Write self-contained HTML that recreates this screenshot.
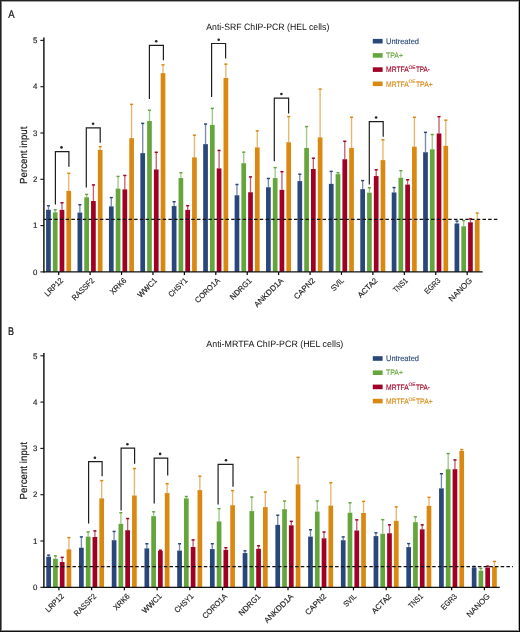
<!DOCTYPE html>
<html><head><meta charset="utf-8"><title>ChIP-PCR</title>
<style>
html,body{margin:0;padding:0;background:#fff;}
body{width:520px;height:632px;overflow:hidden;}
svg{display:block;font-family:"Liberation Sans",sans-serif;text-rendering:geometricPrecision;will-change:transform;}
</style></head><body>
<svg width="520" height="632" viewBox="0 0 520 632">
<rect x="0" y="0" width="520" height="632" fill="#fff"/>
<rect x="46.09" y="209.77" width="4.7" height="62.13" fill="#2a477b"/>
<line x1="48.45" y1="209.77" x2="48.45" y2="205.46" stroke="#2a477b" stroke-width="1.35" stroke-opacity="0.62"/>
<rect x="46.90" y="205.06" width="3.1" height="1.45" fill="#2a477b"/>
<rect x="52.86" y="212.36" width="4.7" height="59.54" fill="#65a63c"/>
<line x1="55.21" y1="212.36" x2="55.21" y2="209.49" stroke="#65a63c" stroke-width="1.35" stroke-opacity="0.62"/>
<rect x="53.66" y="209.09" width="3.1" height="1.45" fill="#65a63c"/>
<rect x="59.63" y="209.86" width="4.7" height="62.04" fill="#a00026"/>
<line x1="61.98" y1="209.86" x2="61.98" y2="202.45" stroke="#a00026" stroke-width="1.35" stroke-opacity="0.62"/>
<rect x="60.44" y="202.05" width="3.1" height="1.45" fill="#a00026"/>
<rect x="66.41" y="190.97" width="4.7" height="80.93" fill="#d98912"/>
<line x1="68.75" y1="190.97" x2="68.75" y2="172.96" stroke="#d98912" stroke-width="1.35" stroke-opacity="0.62"/>
<rect x="67.20" y="172.56" width="3.1" height="1.45" fill="#d98912"/>
<rect x="77.52" y="212.59" width="4.7" height="59.31" fill="#2a477b"/>
<line x1="79.87" y1="212.59" x2="79.87" y2="204.39" stroke="#2a477b" stroke-width="1.35" stroke-opacity="0.62"/>
<rect x="78.32" y="203.99" width="3.1" height="1.45" fill="#2a477b"/>
<rect x="84.29" y="197.26" width="4.7" height="74.64" fill="#65a63c"/>
<line x1="86.64" y1="197.26" x2="86.64" y2="194.07" stroke="#65a63c" stroke-width="1.35" stroke-opacity="0.62"/>
<rect x="85.09" y="193.67" width="3.1" height="1.45" fill="#65a63c"/>
<rect x="91.06" y="200.97" width="4.7" height="70.93" fill="#a00026"/>
<line x1="93.41" y1="200.97" x2="93.41" y2="184.58" stroke="#a00026" stroke-width="1.35" stroke-opacity="0.62"/>
<rect x="91.86" y="184.18" width="3.1" height="1.45" fill="#a00026"/>
<rect x="97.83" y="149.90" width="4.7" height="122.00" fill="#d98912"/>
<line x1="100.18" y1="149.90" x2="100.18" y2="146.29" stroke="#d98912" stroke-width="1.35" stroke-opacity="0.62"/>
<rect x="98.63" y="145.89" width="3.1" height="1.45" fill="#d98912"/>
<rect x="108.94" y="206.39" width="4.7" height="65.51" fill="#2a477b"/>
<line x1="111.28" y1="206.39" x2="111.28" y2="197.26" stroke="#2a477b" stroke-width="1.35" stroke-opacity="0.62"/>
<rect x="109.73" y="196.86" width="3.1" height="1.45" fill="#2a477b"/>
<rect x="115.70" y="188.56" width="4.7" height="83.34" fill="#65a63c"/>
<line x1="118.05" y1="188.56" x2="118.05" y2="176.06" stroke="#65a63c" stroke-width="1.35" stroke-opacity="0.62"/>
<rect x="116.50" y="175.66" width="3.1" height="1.45" fill="#65a63c"/>
<rect x="122.47" y="189.35" width="4.7" height="82.55" fill="#a00026"/>
<line x1="124.82" y1="189.35" x2="124.82" y2="175.13" stroke="#a00026" stroke-width="1.35" stroke-opacity="0.62"/>
<rect x="123.27" y="174.73" width="3.1" height="1.45" fill="#a00026"/>
<rect x="129.25" y="138.14" width="4.7" height="133.76" fill="#d98912"/>
<line x1="131.59" y1="138.14" x2="131.59" y2="104.02" stroke="#d98912" stroke-width="1.35" stroke-opacity="0.62"/>
<rect x="130.04" y="103.62" width="3.1" height="1.45" fill="#d98912"/>
<rect x="140.36" y="153.14" width="4.7" height="118.76" fill="#2a477b"/>
<line x1="142.71" y1="153.14" x2="142.71" y2="123.05" stroke="#2a477b" stroke-width="1.35" stroke-opacity="0.62"/>
<rect x="141.16" y="122.65" width="3.1" height="1.45" fill="#2a477b"/>
<rect x="147.13" y="121.05" width="4.7" height="150.85" fill="#65a63c"/>
<line x1="149.48" y1="121.05" x2="149.48" y2="109.94" stroke="#65a63c" stroke-width="1.35" stroke-opacity="0.62"/>
<rect x="147.93" y="109.54" width="3.1" height="1.45" fill="#65a63c"/>
<rect x="153.90" y="169.44" width="4.7" height="102.46" fill="#a00026"/>
<line x1="156.25" y1="169.44" x2="156.25" y2="151.94" stroke="#a00026" stroke-width="1.35" stroke-opacity="0.62"/>
<rect x="154.69" y="151.54" width="3.1" height="1.45" fill="#a00026"/>
<rect x="160.67" y="73.13" width="4.7" height="198.77" fill="#d98912"/>
<line x1="163.02" y1="73.13" x2="163.02" y2="64.52" stroke="#d98912" stroke-width="1.35" stroke-opacity="0.62"/>
<rect x="161.47" y="64.12" width="3.1" height="1.45" fill="#d98912"/>
<rect x="171.78" y="206.06" width="4.7" height="65.84" fill="#2a477b"/>
<line x1="174.12" y1="206.06" x2="174.12" y2="201.39" stroke="#2a477b" stroke-width="1.35" stroke-opacity="0.62"/>
<rect x="172.57" y="200.99" width="3.1" height="1.45" fill="#2a477b"/>
<rect x="178.55" y="178.05" width="4.7" height="93.85" fill="#65a63c"/>
<line x1="180.90" y1="178.05" x2="180.90" y2="172.35" stroke="#65a63c" stroke-width="1.35" stroke-opacity="0.62"/>
<rect x="179.34" y="171.95" width="3.1" height="1.45" fill="#65a63c"/>
<rect x="185.31" y="209.86" width="4.7" height="62.04" fill="#a00026"/>
<line x1="187.66" y1="209.86" x2="187.66" y2="205.37" stroke="#a00026" stroke-width="1.35" stroke-opacity="0.62"/>
<rect x="186.11" y="204.97" width="3.1" height="1.45" fill="#a00026"/>
<rect x="192.09" y="157.35" width="4.7" height="114.55" fill="#d98912"/>
<line x1="194.44" y1="157.35" x2="194.44" y2="134.85" stroke="#d98912" stroke-width="1.35" stroke-opacity="0.62"/>
<rect x="192.88" y="134.45" width="3.1" height="1.45" fill="#d98912"/>
<rect x="203.20" y="144.16" width="4.7" height="127.74" fill="#2a477b"/>
<line x1="205.55" y1="144.16" x2="205.55" y2="123.74" stroke="#2a477b" stroke-width="1.35" stroke-opacity="0.62"/>
<rect x="204.00" y="123.34" width="3.1" height="1.45" fill="#2a477b"/>
<rect x="209.97" y="124.94" width="4.7" height="146.96" fill="#65a63c"/>
<line x1="212.32" y1="124.94" x2="212.32" y2="108.04" stroke="#65a63c" stroke-width="1.35" stroke-opacity="0.62"/>
<rect x="210.77" y="107.64" width="3.1" height="1.45" fill="#65a63c"/>
<rect x="216.74" y="168.37" width="4.7" height="103.53" fill="#a00026"/>
<line x1="219.09" y1="168.37" x2="219.09" y2="150.13" stroke="#a00026" stroke-width="1.35" stroke-opacity="0.62"/>
<rect x="217.53" y="149.73" width="3.1" height="1.45" fill="#a00026"/>
<rect x="223.51" y="78.00" width="4.7" height="193.90" fill="#d98912"/>
<line x1="225.86" y1="78.00" x2="225.86" y2="63.83" stroke="#d98912" stroke-width="1.35" stroke-opacity="0.62"/>
<rect x="224.31" y="63.43" width="3.1" height="1.45" fill="#d98912"/>
<rect x="234.62" y="195.27" width="4.7" height="76.63" fill="#2a477b"/>
<line x1="236.97" y1="195.27" x2="236.97" y2="184.16" stroke="#2a477b" stroke-width="1.35" stroke-opacity="0.62"/>
<rect x="235.41" y="183.76" width="3.1" height="1.45" fill="#2a477b"/>
<rect x="241.39" y="163.23" width="4.7" height="108.67" fill="#65a63c"/>
<line x1="243.74" y1="163.23" x2="243.74" y2="151.84" stroke="#65a63c" stroke-width="1.35" stroke-opacity="0.62"/>
<rect x="242.19" y="151.44" width="3.1" height="1.45" fill="#65a63c"/>
<rect x="248.16" y="192.26" width="4.7" height="79.64" fill="#a00026"/>
<line x1="250.50" y1="192.26" x2="250.50" y2="176.57" stroke="#a00026" stroke-width="1.35" stroke-opacity="0.62"/>
<rect x="248.95" y="176.17" width="3.1" height="1.45" fill="#a00026"/>
<rect x="254.93" y="147.35" width="4.7" height="124.55" fill="#d98912"/>
<line x1="257.28" y1="147.35" x2="257.28" y2="130.55" stroke="#d98912" stroke-width="1.35" stroke-opacity="0.62"/>
<rect x="255.73" y="130.15" width="3.1" height="1.45" fill="#d98912"/>
<rect x="266.04" y="187.26" width="4.7" height="84.64" fill="#2a477b"/>
<line x1="268.39" y1="187.26" x2="268.39" y2="178.14" stroke="#2a477b" stroke-width="1.35" stroke-opacity="0.62"/>
<rect x="266.84" y="177.74" width="3.1" height="1.45" fill="#2a477b"/>
<rect x="272.81" y="178.05" width="4.7" height="93.85" fill="#65a63c"/>
<line x1="275.16" y1="178.05" x2="275.16" y2="167.26" stroke="#65a63c" stroke-width="1.35" stroke-opacity="0.62"/>
<rect x="273.61" y="166.86" width="3.1" height="1.45" fill="#65a63c"/>
<rect x="279.58" y="189.86" width="4.7" height="82.04" fill="#a00026"/>
<line x1="281.93" y1="189.86" x2="281.93" y2="171.34" stroke="#a00026" stroke-width="1.35" stroke-opacity="0.62"/>
<rect x="280.38" y="170.94" width="3.1" height="1.45" fill="#a00026"/>
<rect x="286.35" y="142.26" width="4.7" height="129.64" fill="#d98912"/>
<line x1="288.70" y1="142.26" x2="288.70" y2="116.24" stroke="#d98912" stroke-width="1.35" stroke-opacity="0.62"/>
<rect x="287.15" y="115.84" width="3.1" height="1.45" fill="#d98912"/>
<rect x="297.46" y="181.06" width="4.7" height="90.84" fill="#2a477b"/>
<line x1="299.81" y1="181.06" x2="299.81" y2="173.88" stroke="#2a477b" stroke-width="1.35" stroke-opacity="0.62"/>
<rect x="298.26" y="173.48" width="3.1" height="1.45" fill="#2a477b"/>
<rect x="304.23" y="147.95" width="4.7" height="123.95" fill="#65a63c"/>
<line x1="306.58" y1="147.95" x2="306.58" y2="126.24" stroke="#65a63c" stroke-width="1.35" stroke-opacity="0.62"/>
<rect x="305.03" y="125.84" width="3.1" height="1.45" fill="#65a63c"/>
<rect x="311.00" y="169.02" width="4.7" height="102.88" fill="#a00026"/>
<line x1="313.35" y1="169.02" x2="313.35" y2="157.91" stroke="#a00026" stroke-width="1.35" stroke-opacity="0.62"/>
<rect x="311.80" y="157.51" width="3.1" height="1.45" fill="#a00026"/>
<rect x="317.77" y="137.35" width="4.7" height="134.55" fill="#d98912"/>
<line x1="320.12" y1="137.35" x2="320.12" y2="88.74" stroke="#d98912" stroke-width="1.35" stroke-opacity="0.62"/>
<rect x="318.57" y="88.34" width="3.1" height="1.45" fill="#d98912"/>
<rect x="328.88" y="183.88" width="4.7" height="88.02" fill="#2a477b"/>
<line x1="331.23" y1="183.88" x2="331.23" y2="171.06" stroke="#2a477b" stroke-width="1.35" stroke-opacity="0.62"/>
<rect x="329.68" y="170.66" width="3.1" height="1.45" fill="#2a477b"/>
<rect x="335.65" y="174.16" width="4.7" height="97.74" fill="#65a63c"/>
<line x1="338.00" y1="174.16" x2="338.00" y2="172.35" stroke="#65a63c" stroke-width="1.35" stroke-opacity="0.62"/>
<rect x="336.45" y="171.95" width="3.1" height="1.45" fill="#65a63c"/>
<rect x="342.42" y="159.25" width="4.7" height="112.65" fill="#a00026"/>
<line x1="344.77" y1="159.25" x2="344.77" y2="140.96" stroke="#a00026" stroke-width="1.35" stroke-opacity="0.62"/>
<rect x="343.22" y="140.56" width="3.1" height="1.45" fill="#a00026"/>
<rect x="349.19" y="147.95" width="4.7" height="123.95" fill="#d98912"/>
<line x1="351.54" y1="147.95" x2="351.54" y2="116.93" stroke="#d98912" stroke-width="1.35" stroke-opacity="0.62"/>
<rect x="349.99" y="116.53" width="3.1" height="1.45" fill="#d98912"/>
<rect x="360.30" y="189.16" width="4.7" height="82.74" fill="#2a477b"/>
<line x1="362.65" y1="189.16" x2="362.65" y2="180.27" stroke="#2a477b" stroke-width="1.35" stroke-opacity="0.62"/>
<rect x="361.10" y="179.87" width="3.1" height="1.45" fill="#2a477b"/>
<rect x="367.07" y="192.68" width="4.7" height="79.22" fill="#65a63c"/>
<line x1="369.42" y1="192.68" x2="369.42" y2="187.45" stroke="#65a63c" stroke-width="1.35" stroke-opacity="0.62"/>
<rect x="367.87" y="187.05" width="3.1" height="1.45" fill="#65a63c"/>
<rect x="373.84" y="176.06" width="4.7" height="95.84" fill="#a00026"/>
<line x1="376.19" y1="176.06" x2="376.19" y2="169.44" stroke="#a00026" stroke-width="1.35" stroke-opacity="0.62"/>
<rect x="374.64" y="169.04" width="3.1" height="1.45" fill="#a00026"/>
<rect x="380.61" y="160.13" width="4.7" height="111.77" fill="#d98912"/>
<line x1="382.96" y1="160.13" x2="382.96" y2="139.44" stroke="#d98912" stroke-width="1.35" stroke-opacity="0.62"/>
<rect x="381.41" y="139.04" width="3.1" height="1.45" fill="#d98912"/>
<rect x="391.72" y="192.45" width="4.7" height="79.45" fill="#2a477b"/>
<line x1="394.07" y1="192.45" x2="394.07" y2="187.26" stroke="#2a477b" stroke-width="1.35" stroke-opacity="0.62"/>
<rect x="392.52" y="186.86" width="3.1" height="1.45" fill="#2a477b"/>
<rect x="398.49" y="177.77" width="4.7" height="94.13" fill="#65a63c"/>
<line x1="400.84" y1="177.77" x2="400.84" y2="170.36" stroke="#65a63c" stroke-width="1.35" stroke-opacity="0.62"/>
<rect x="399.29" y="169.96" width="3.1" height="1.45" fill="#65a63c"/>
<rect x="405.26" y="184.58" width="4.7" height="87.32" fill="#a00026"/>
<line x1="407.61" y1="184.58" x2="407.61" y2="179.44" stroke="#a00026" stroke-width="1.35" stroke-opacity="0.62"/>
<rect x="406.06" y="179.04" width="3.1" height="1.45" fill="#a00026"/>
<rect x="412.03" y="146.66" width="4.7" height="125.24" fill="#d98912"/>
<line x1="414.38" y1="146.66" x2="414.38" y2="116.93" stroke="#d98912" stroke-width="1.35" stroke-opacity="0.62"/>
<rect x="412.83" y="116.53" width="3.1" height="1.45" fill="#d98912"/>
<rect x="423.14" y="152.26" width="4.7" height="119.64" fill="#2a477b"/>
<line x1="425.49" y1="152.26" x2="425.49" y2="132.03" stroke="#2a477b" stroke-width="1.35" stroke-opacity="0.62"/>
<rect x="423.94" y="131.63" width="3.1" height="1.45" fill="#2a477b"/>
<rect x="429.91" y="149.34" width="4.7" height="122.56" fill="#65a63c"/>
<line x1="432.26" y1="149.34" x2="432.26" y2="134.16" stroke="#65a63c" stroke-width="1.35" stroke-opacity="0.62"/>
<rect x="430.71" y="133.76" width="3.1" height="1.45" fill="#65a63c"/>
<rect x="436.68" y="133.46" width="4.7" height="138.44" fill="#a00026"/>
<line x1="439.03" y1="133.46" x2="439.03" y2="116.33" stroke="#a00026" stroke-width="1.35" stroke-opacity="0.62"/>
<rect x="437.48" y="115.93" width="3.1" height="1.45" fill="#a00026"/>
<rect x="443.45" y="145.83" width="4.7" height="126.07" fill="#d98912"/>
<line x1="445.80" y1="145.83" x2="445.80" y2="119.85" stroke="#d98912" stroke-width="1.35" stroke-opacity="0.62"/>
<rect x="444.25" y="119.45" width="3.1" height="1.45" fill="#d98912"/>
<rect x="454.56" y="223.47" width="4.7" height="48.43" fill="#2a477b"/>
<line x1="456.91" y1="223.47" x2="456.91" y2="220.78" stroke="#2a477b" stroke-width="1.35" stroke-opacity="0.62"/>
<rect x="455.36" y="220.38" width="3.1" height="1.45" fill="#2a477b"/>
<rect x="461.33" y="226.29" width="4.7" height="45.61" fill="#65a63c"/>
<line x1="463.68" y1="226.29" x2="463.68" y2="220.28" stroke="#65a63c" stroke-width="1.35" stroke-opacity="0.62"/>
<rect x="462.13" y="219.88" width="3.1" height="1.45" fill="#65a63c"/>
<rect x="468.10" y="222.27" width="4.7" height="49.63" fill="#a00026"/>
<line x1="470.45" y1="222.27" x2="470.45" y2="218.56" stroke="#a00026" stroke-width="1.35" stroke-opacity="0.62"/>
<rect x="468.90" y="218.16" width="3.1" height="1.45" fill="#a00026"/>
<rect x="474.87" y="220.00" width="4.7" height="51.90" fill="#d98912"/>
<line x1="477.22" y1="220.00" x2="477.22" y2="212.77" stroke="#d98912" stroke-width="1.35" stroke-opacity="0.62"/>
<rect x="475.67" y="212.37" width="3.1" height="1.45" fill="#d98912"/>
<line x1="43.89" y1="219.3" x2="497.7" y2="219.3" stroke="#111" stroke-width="1.25" stroke-dasharray="3.5 2.21" stroke-dashoffset="1.11"/>
<line x1="43.89" y1="37.5" x2="43.89" y2="272.5" stroke="#111" stroke-width="1.45"/>
<line x1="43.39" y1="271.9" x2="482.7" y2="271.9" stroke="#111" stroke-width="1.2"/>
<line x1="40.39" y1="271.90" x2="43.89" y2="271.90" stroke="#111" stroke-width="1.1"/>
<text x="37.49" y="274.65" font-size="7.9" text-anchor="end" fill="#1a1a1a" stroke="#1a1a1a" stroke-width="0.15">0</text>
<line x1="40.39" y1="225.60" x2="43.89" y2="225.60" stroke="#111" stroke-width="1.1"/>
<text x="37.49" y="228.35" font-size="7.9" text-anchor="end" fill="#1a1a1a" stroke="#1a1a1a" stroke-width="0.15">1</text>
<line x1="40.39" y1="179.30" x2="43.89" y2="179.30" stroke="#111" stroke-width="1.1"/>
<text x="37.49" y="182.05" font-size="7.9" text-anchor="end" fill="#1a1a1a" stroke="#1a1a1a" stroke-width="0.15">2</text>
<line x1="40.39" y1="133.00" x2="43.89" y2="133.00" stroke="#111" stroke-width="1.1"/>
<text x="37.49" y="135.75" font-size="7.9" text-anchor="end" fill="#1a1a1a" stroke="#1a1a1a" stroke-width="0.15">3</text>
<line x1="40.39" y1="86.70" x2="43.89" y2="86.70" stroke="#111" stroke-width="1.1"/>
<text x="37.49" y="89.45" font-size="7.9" text-anchor="end" fill="#1a1a1a" stroke="#1a1a1a" stroke-width="0.15">4</text>
<line x1="40.39" y1="40.40" x2="43.89" y2="40.40" stroke="#111" stroke-width="1.1"/>
<text x="37.49" y="43.15" font-size="7.9" text-anchor="end" fill="#1a1a1a" stroke="#1a1a1a" stroke-width="0.15">5</text>
<line x1="58.70" y1="271.9" x2="58.70" y2="274.9" stroke="#000" stroke-width="1.2"/>
<text x="63.55" y="281.10" font-size="7.9" text-anchor="end" fill="#1a1a1a" stroke="#1a1a1a" stroke-width="0.14" textLength="22.4" lengthAdjust="spacingAndGlyphs" transform="rotate(-45 63.55 281.10)">LRP12</text>
<line x1="90.12" y1="271.9" x2="90.12" y2="274.9" stroke="#000" stroke-width="1.2"/>
<text x="94.72" y="281.10" font-size="7.9" text-anchor="end" fill="#1a1a1a" stroke="#1a1a1a" stroke-width="0.14" textLength="28.0" lengthAdjust="spacingAndGlyphs" transform="rotate(-45 94.72 281.10)">RASSF2</text>
<line x1="121.54" y1="271.9" x2="121.54" y2="274.9" stroke="#000" stroke-width="1.2"/>
<text x="126.89" y="281.10" font-size="7.9" text-anchor="end" fill="#1a1a1a" stroke="#1a1a1a" stroke-width="0.14" textLength="19.5" lengthAdjust="spacingAndGlyphs" transform="rotate(-45 126.89 281.10)">XRK6</text>
<line x1="152.96" y1="271.9" x2="152.96" y2="274.9" stroke="#000" stroke-width="1.2"/>
<text x="157.56" y="281.10" font-size="7.9" text-anchor="end" fill="#1a1a1a" stroke="#1a1a1a" stroke-width="0.14" textLength="23.9" lengthAdjust="spacingAndGlyphs" transform="rotate(-45 157.56 281.10)">WWC1</text>
<line x1="184.38" y1="271.9" x2="184.38" y2="274.9" stroke="#000" stroke-width="1.2"/>
<text x="187.88" y="281.10" font-size="7.9" text-anchor="end" fill="#1a1a1a" stroke="#1a1a1a" stroke-width="0.14" textLength="23.1" lengthAdjust="spacingAndGlyphs" transform="rotate(-45 187.88 281.10)">CHSY1</text>
<line x1="215.80" y1="271.9" x2="215.80" y2="274.9" stroke="#000" stroke-width="1.2"/>
<text x="220.45" y="281.10" font-size="7.9" text-anchor="end" fill="#1a1a1a" stroke="#1a1a1a" stroke-width="0.14" textLength="31.6" lengthAdjust="spacingAndGlyphs" transform="rotate(-45 220.45 281.10)">CORO1A</text>
<line x1="247.22" y1="271.9" x2="247.22" y2="274.9" stroke="#000" stroke-width="1.2"/>
<text x="252.32" y="281.10" font-size="7.9" text-anchor="end" fill="#1a1a1a" stroke="#1a1a1a" stroke-width="0.14" textLength="27.2" lengthAdjust="spacingAndGlyphs" transform="rotate(-45 252.32 281.10)">NDRG1</text>
<line x1="278.64" y1="271.9" x2="278.64" y2="274.9" stroke="#000" stroke-width="1.2"/>
<text x="283.94" y="281.10" font-size="7.9" text-anchor="end" fill="#1a1a1a" stroke="#1a1a1a" stroke-width="0.14" textLength="37.8" lengthAdjust="spacingAndGlyphs" transform="rotate(-45 283.94 281.10)">ANKDD1A</text>
<line x1="310.06" y1="271.9" x2="310.06" y2="274.9" stroke="#000" stroke-width="1.2"/>
<text x="315.56" y="281.10" font-size="7.9" text-anchor="end" fill="#1a1a1a" stroke="#1a1a1a" stroke-width="0.14" textLength="26.4" lengthAdjust="spacingAndGlyphs" transform="rotate(-45 315.56 281.10)">CAPN2</text>
<line x1="341.48" y1="271.9" x2="341.48" y2="274.9" stroke="#000" stroke-width="1.2"/>
<text x="344.38" y="281.10" font-size="7.9" text-anchor="end" fill="#1a1a1a" stroke="#1a1a1a" stroke-width="0.14" textLength="14.8" lengthAdjust="spacingAndGlyphs" transform="rotate(-45 344.38 281.10)">SVIL</text>
<line x1="372.90" y1="271.9" x2="372.90" y2="274.9" stroke="#000" stroke-width="1.2"/>
<text x="378.00" y="281.10" font-size="7.9" text-anchor="end" fill="#1a1a1a" stroke="#1a1a1a" stroke-width="0.14" textLength="24.4" lengthAdjust="spacingAndGlyphs" transform="rotate(-45 378.00 281.10)">ACTA2</text>
<line x1="404.32" y1="271.9" x2="404.32" y2="274.9" stroke="#000" stroke-width="1.2"/>
<text x="408.32" y="281.10" font-size="7.9" text-anchor="end" fill="#1a1a1a" stroke="#1a1a1a" stroke-width="0.14" textLength="17.0" lengthAdjust="spacingAndGlyphs" transform="rotate(-45 408.32 281.10)">TNS1</text>
<line x1="435.74" y1="271.9" x2="435.74" y2="274.9" stroke="#000" stroke-width="1.2"/>
<text x="441.04" y="281.10" font-size="7.9" text-anchor="end" fill="#1a1a1a" stroke="#1a1a1a" stroke-width="0.14" textLength="19.1" lengthAdjust="spacingAndGlyphs" transform="rotate(-45 441.04 281.10)">EGR3</text>
<line x1="467.16" y1="271.9" x2="467.16" y2="274.9" stroke="#000" stroke-width="1.2"/>
<text x="472.66" y="281.10" font-size="7.9" text-anchor="end" fill="#1a1a1a" stroke="#1a1a1a" stroke-width="0.14" textLength="29.4" lengthAdjust="spacingAndGlyphs" transform="rotate(-45 472.66 281.10)">NANOG</text>
<path d="M55.4 204.4 V151.7 H68.9 V166.8" fill="none" stroke="#1e1e1e" stroke-width="1.2"/>
<circle cx="61.5" cy="147.4" r="1.3" fill="#222"/>
<path d="M86.3 187.6 V127.8 H100.2 V142.8" fill="none" stroke="#1e1e1e" stroke-width="1.2"/>
<circle cx="93.1" cy="123.8" r="1.3" fill="#222"/>
<path d="M149.4 99.1 V45.4 H163.4 V60.2" fill="none" stroke="#1e1e1e" stroke-width="1.2"/>
<circle cx="156.2" cy="41.3" r="1.3" fill="#222"/>
<path d="M211.6 97.0 V43.5 H225.6 V58.5" fill="none" stroke="#1e1e1e" stroke-width="1.2"/>
<circle cx="218.7" cy="39.7" r="1.3" fill="#222"/>
<path d="M274.3 161.2 V98.1 H288.6 V113.5" fill="none" stroke="#1e1e1e" stroke-width="1.2"/>
<circle cx="281.4" cy="94.0" r="1.3" fill="#222"/>
<path d="M369.3 184.5 V121.6 H383.2 V136.7" fill="none" stroke="#1e1e1e" stroke-width="1.2"/>
<circle cx="376.1" cy="117.5" r="1.3" fill="#222"/>
<text x="206.3" y="29.8" font-size="9.2" fill="#111" textLength="123" lengthAdjust="spacingAndGlyphs">Anti-SRF ChIP-PCR (HEL cells)</text>
<rect x="372.8" y="38.90" width="9.8" height="4.6" fill="#2a477b"/>
<text x="386" y="43.90" font-size="7.9" fill="#2a477b" stroke="#2a477b" stroke-width="0.12" textLength="33" lengthAdjust="spacingAndGlyphs">Untreated</text>
<rect x="372.8" y="53.10" width="9.8" height="4.6" fill="#65a63c"/>
<text x="386" y="58.10" font-size="7.9" fill="#65a63c" stroke="#65a63c" stroke-width="0.12" textLength="17" lengthAdjust="spacingAndGlyphs">TPA+</text>
<rect x="372.8" y="67.30" width="9.8" height="4.6" fill="#a00026"/>
<text x="386" y="72.30" font-size="7.9" fill="#a00026" stroke="#a00026" stroke-width="0.12" textLength="22.8" lengthAdjust="spacingAndGlyphs">MRTFA</text>
<text x="408.5" y="69.00" font-size="4.9" fill="#a00026" stroke="#a00026" stroke-width="0.08" textLength="7.2" lengthAdjust="spacingAndGlyphs">OE</text>
<text x="415.9" y="72.30" font-size="7.9" fill="#a00026" stroke="#a00026" stroke-width="0.12" textLength="14.0" lengthAdjust="spacingAndGlyphs">TPA-</text>
<rect x="372.8" y="81.50" width="9.8" height="4.6" fill="#d98912"/>
<text x="386" y="86.50" font-size="7.9" fill="#d98912" stroke="#d98912" stroke-width="0.12" textLength="22.8" lengthAdjust="spacingAndGlyphs">MRTFA</text>
<text x="408.5" y="83.20" font-size="4.9" fill="#d98912" stroke="#d98912" stroke-width="0.08" textLength="7.2" lengthAdjust="spacingAndGlyphs">OE</text>
<text x="415.9" y="86.50" font-size="7.9" fill="#d98912" stroke="#d98912" stroke-width="0.12" textLength="16.8" lengthAdjust="spacingAndGlyphs">TPA+</text>
<text x="8.2" y="18.2" font-size="11.2" fill="#111" stroke="#111" stroke-width="0.2" textLength="6.4" lengthAdjust="spacingAndGlyphs">A</text>
<text x="27.2" y="155.3" font-size="10.2" text-anchor="middle" fill="#111" stroke="#111" stroke-width="0.15" textLength="57.5" lengthAdjust="spacingAndGlyphs" transform="rotate(-90 27.2 155.3)">Percent input</text>
<rect x="46.29" y="556.70" width="4.7" height="30.60" fill="#2a477b"/>
<line x1="48.64" y1="556.70" x2="48.64" y2="554.80" stroke="#2a477b" stroke-width="1.35" stroke-opacity="0.62"/>
<rect x="47.09" y="554.40" width="3.1" height="1.45" fill="#2a477b"/>
<rect x="53.06" y="558.69" width="4.7" height="28.61" fill="#65a63c"/>
<line x1="55.41" y1="558.69" x2="55.41" y2="555.58" stroke="#65a63c" stroke-width="1.35" stroke-opacity="0.62"/>
<rect x="53.87" y="555.18" width="3.1" height="1.45" fill="#65a63c"/>
<rect x="59.83" y="562.02" width="4.7" height="25.28" fill="#a00026"/>
<line x1="62.18" y1="562.02" x2="62.18" y2="557.02" stroke="#a00026" stroke-width="1.35" stroke-opacity="0.62"/>
<rect x="60.63" y="556.62" width="3.1" height="1.45" fill="#a00026"/>
<rect x="66.60" y="549.38" width="4.7" height="37.92" fill="#d98912"/>
<line x1="68.95" y1="549.38" x2="68.95" y2="537.30" stroke="#d98912" stroke-width="1.35" stroke-opacity="0.62"/>
<rect x="67.40" y="536.90" width="3.1" height="1.45" fill="#d98912"/>
<rect x="79.03" y="547.71" width="4.7" height="39.59" fill="#2a477b"/>
<line x1="81.38" y1="547.71" x2="81.38" y2="536.60" stroke="#2a477b" stroke-width="1.35" stroke-opacity="0.62"/>
<rect x="79.83" y="536.20" width="3.1" height="1.45" fill="#2a477b"/>
<rect x="85.80" y="536.60" width="4.7" height="50.70" fill="#65a63c"/>
<line x1="88.14" y1="536.60" x2="88.14" y2="531.60" stroke="#65a63c" stroke-width="1.35" stroke-opacity="0.62"/>
<rect x="86.59" y="531.20" width="3.1" height="1.45" fill="#65a63c"/>
<rect x="92.56" y="537.02" width="4.7" height="50.28" fill="#a00026"/>
<line x1="94.91" y1="537.02" x2="94.91" y2="530.58" stroke="#a00026" stroke-width="1.35" stroke-opacity="0.62"/>
<rect x="93.36" y="530.18" width="3.1" height="1.45" fill="#a00026"/>
<rect x="99.34" y="498.40" width="4.7" height="88.90" fill="#d98912"/>
<line x1="101.69" y1="498.40" x2="101.69" y2="480.30" stroke="#d98912" stroke-width="1.35" stroke-opacity="0.62"/>
<rect x="100.14" y="479.90" width="3.1" height="1.45" fill="#d98912"/>
<rect x="111.75" y="540.21" width="4.7" height="47.09" fill="#2a477b"/>
<line x1="114.10" y1="540.21" x2="114.10" y2="531.09" stroke="#2a477b" stroke-width="1.35" stroke-opacity="0.62"/>
<rect x="112.55" y="530.69" width="3.1" height="1.45" fill="#2a477b"/>
<rect x="118.52" y="523.82" width="4.7" height="63.48" fill="#65a63c"/>
<line x1="120.87" y1="523.82" x2="120.87" y2="512.39" stroke="#65a63c" stroke-width="1.35" stroke-opacity="0.62"/>
<rect x="119.32" y="511.99" width="3.1" height="1.45" fill="#65a63c"/>
<rect x="125.29" y="530.21" width="4.7" height="57.09" fill="#a00026"/>
<line x1="127.64" y1="530.21" x2="127.64" y2="518.22" stroke="#a00026" stroke-width="1.35" stroke-opacity="0.62"/>
<rect x="126.09" y="517.82" width="3.1" height="1.45" fill="#a00026"/>
<rect x="132.06" y="495.49" width="4.7" height="91.81" fill="#d98912"/>
<line x1="134.41" y1="495.49" x2="134.41" y2="468.22" stroke="#d98912" stroke-width="1.35" stroke-opacity="0.62"/>
<rect x="132.86" y="467.82" width="3.1" height="1.45" fill="#d98912"/>
<rect x="144.49" y="548.41" width="4.7" height="38.89" fill="#2a477b"/>
<line x1="146.84" y1="548.41" x2="146.84" y2="543.41" stroke="#2a477b" stroke-width="1.35" stroke-opacity="0.62"/>
<rect x="145.28" y="543.01" width="3.1" height="1.45" fill="#2a477b"/>
<rect x="151.26" y="516.14" width="4.7" height="71.16" fill="#65a63c"/>
<line x1="153.61" y1="516.14" x2="153.61" y2="511.46" stroke="#65a63c" stroke-width="1.35" stroke-opacity="0.62"/>
<rect x="152.06" y="511.06" width="3.1" height="1.45" fill="#65a63c"/>
<rect x="158.03" y="550.91" width="4.7" height="36.39" fill="#a00026"/>
<line x1="160.38" y1="550.91" x2="160.38" y2="549.89" stroke="#a00026" stroke-width="1.35" stroke-opacity="0.62"/>
<rect x="158.82" y="549.49" width="3.1" height="1.45" fill="#a00026"/>
<rect x="164.80" y="493.08" width="4.7" height="94.22" fill="#d98912"/>
<line x1="167.15" y1="493.08" x2="167.15" y2="483.40" stroke="#d98912" stroke-width="1.35" stroke-opacity="0.62"/>
<rect x="165.59" y="483.00" width="3.1" height="1.45" fill="#d98912"/>
<rect x="177.21" y="550.58" width="4.7" height="36.72" fill="#2a477b"/>
<line x1="179.56" y1="550.58" x2="179.56" y2="543.41" stroke="#2a477b" stroke-width="1.35" stroke-opacity="0.62"/>
<rect x="178.01" y="543.01" width="3.1" height="1.45" fill="#2a477b"/>
<rect x="183.98" y="498.40" width="4.7" height="88.90" fill="#65a63c"/>
<line x1="186.33" y1="498.40" x2="186.33" y2="496.18" stroke="#65a63c" stroke-width="1.35" stroke-opacity="0.62"/>
<rect x="184.78" y="495.78" width="3.1" height="1.45" fill="#65a63c"/>
<rect x="190.75" y="547.02" width="4.7" height="40.28" fill="#a00026"/>
<line x1="193.10" y1="547.02" x2="193.10" y2="539.61" stroke="#a00026" stroke-width="1.35" stroke-opacity="0.62"/>
<rect x="191.55" y="539.21" width="3.1" height="1.45" fill="#a00026"/>
<rect x="197.52" y="490.12" width="4.7" height="97.18" fill="#d98912"/>
<line x1="199.87" y1="490.12" x2="199.87" y2="475.90" stroke="#d98912" stroke-width="1.35" stroke-opacity="0.62"/>
<rect x="198.32" y="475.50" width="3.1" height="1.45" fill="#d98912"/>
<rect x="209.94" y="549.10" width="4.7" height="38.20" fill="#2a477b"/>
<line x1="212.29" y1="549.10" x2="212.29" y2="543.41" stroke="#2a477b" stroke-width="1.35" stroke-opacity="0.62"/>
<rect x="210.74" y="543.01" width="3.1" height="1.45" fill="#2a477b"/>
<rect x="216.72" y="521.42" width="4.7" height="65.88" fill="#65a63c"/>
<line x1="219.06" y1="521.42" x2="219.06" y2="508.31" stroke="#65a63c" stroke-width="1.35" stroke-opacity="0.62"/>
<rect x="217.51" y="507.91" width="3.1" height="1.45" fill="#65a63c"/>
<rect x="223.48" y="549.89" width="4.7" height="37.41" fill="#a00026"/>
<line x1="225.83" y1="549.89" x2="225.83" y2="547.39" stroke="#a00026" stroke-width="1.35" stroke-opacity="0.62"/>
<rect x="224.28" y="546.99" width="3.1" height="1.45" fill="#a00026"/>
<rect x="230.25" y="505.21" width="4.7" height="82.09" fill="#d98912"/>
<line x1="232.60" y1="505.21" x2="232.60" y2="490.30" stroke="#d98912" stroke-width="1.35" stroke-opacity="0.62"/>
<rect x="231.05" y="489.90" width="3.1" height="1.45" fill="#d98912"/>
<rect x="242.68" y="553.08" width="4.7" height="34.22" fill="#2a477b"/>
<line x1="245.03" y1="553.08" x2="245.03" y2="550.49" stroke="#2a477b" stroke-width="1.35" stroke-opacity="0.62"/>
<rect x="243.47" y="550.09" width="3.1" height="1.45" fill="#2a477b"/>
<rect x="249.45" y="511.09" width="4.7" height="76.21" fill="#65a63c"/>
<line x1="251.80" y1="511.09" x2="251.80" y2="496.78" stroke="#65a63c" stroke-width="1.35" stroke-opacity="0.62"/>
<rect x="250.25" y="496.38" width="3.1" height="1.45" fill="#65a63c"/>
<rect x="256.22" y="548.78" width="4.7" height="38.52" fill="#a00026"/>
<line x1="258.57" y1="548.78" x2="258.57" y2="545.49" stroke="#a00026" stroke-width="1.35" stroke-opacity="0.62"/>
<rect x="257.02" y="545.09" width="3.1" height="1.45" fill="#a00026"/>
<rect x="262.99" y="507.11" width="4.7" height="80.19" fill="#d98912"/>
<line x1="265.34" y1="507.11" x2="265.34" y2="491.69" stroke="#d98912" stroke-width="1.35" stroke-opacity="0.62"/>
<rect x="263.79" y="491.29" width="3.1" height="1.45" fill="#d98912"/>
<rect x="275.40" y="524.89" width="4.7" height="62.41" fill="#2a477b"/>
<line x1="277.75" y1="524.89" x2="277.75" y2="514.89" stroke="#2a477b" stroke-width="1.35" stroke-opacity="0.62"/>
<rect x="276.20" y="514.49" width="3.1" height="1.45" fill="#2a477b"/>
<rect x="282.17" y="509.19" width="4.7" height="78.11" fill="#65a63c"/>
<line x1="284.52" y1="509.19" x2="284.52" y2="500.72" stroke="#65a63c" stroke-width="1.35" stroke-opacity="0.62"/>
<rect x="282.97" y="500.32" width="3.1" height="1.45" fill="#65a63c"/>
<rect x="288.94" y="525.30" width="4.7" height="62.00" fill="#a00026"/>
<line x1="291.30" y1="525.30" x2="291.30" y2="521.00" stroke="#a00026" stroke-width="1.35" stroke-opacity="0.62"/>
<rect x="289.75" y="520.60" width="3.1" height="1.45" fill="#a00026"/>
<rect x="295.71" y="484.42" width="4.7" height="102.88" fill="#d98912"/>
<line x1="298.06" y1="484.42" x2="298.06" y2="457.01" stroke="#d98912" stroke-width="1.35" stroke-opacity="0.62"/>
<rect x="296.51" y="456.61" width="3.1" height="1.45" fill="#d98912"/>
<rect x="308.13" y="536.60" width="4.7" height="50.70" fill="#2a477b"/>
<line x1="310.49" y1="536.60" x2="310.49" y2="529.42" stroke="#2a477b" stroke-width="1.35" stroke-opacity="0.62"/>
<rect x="308.94" y="529.02" width="3.1" height="1.45" fill="#2a477b"/>
<rect x="314.90" y="511.60" width="4.7" height="75.70" fill="#65a63c"/>
<line x1="317.25" y1="511.60" x2="317.25" y2="500.58" stroke="#65a63c" stroke-width="1.35" stroke-opacity="0.62"/>
<rect x="315.70" y="500.18" width="3.1" height="1.45" fill="#65a63c"/>
<rect x="321.68" y="538.31" width="4.7" height="48.99" fill="#a00026"/>
<line x1="324.03" y1="538.31" x2="324.03" y2="531.74" stroke="#a00026" stroke-width="1.35" stroke-opacity="0.62"/>
<rect x="322.48" y="531.34" width="3.1" height="1.45" fill="#a00026"/>
<rect x="328.44" y="505.58" width="4.7" height="81.72" fill="#d98912"/>
<line x1="330.80" y1="505.58" x2="330.80" y2="482.38" stroke="#d98912" stroke-width="1.35" stroke-opacity="0.62"/>
<rect x="329.25" y="481.98" width="3.1" height="1.45" fill="#d98912"/>
<rect x="340.87" y="540.21" width="4.7" height="47.09" fill="#2a477b"/>
<line x1="343.22" y1="540.21" x2="343.22" y2="536.60" stroke="#2a477b" stroke-width="1.35" stroke-opacity="0.62"/>
<rect x="341.67" y="536.20" width="3.1" height="1.45" fill="#2a477b"/>
<rect x="347.63" y="512.71" width="4.7" height="74.59" fill="#65a63c"/>
<line x1="349.99" y1="512.71" x2="349.99" y2="502.48" stroke="#65a63c" stroke-width="1.35" stroke-opacity="0.62"/>
<rect x="348.44" y="502.08" width="3.1" height="1.45" fill="#65a63c"/>
<rect x="354.41" y="530.49" width="4.7" height="56.81" fill="#a00026"/>
<line x1="356.76" y1="530.49" x2="356.76" y2="519.52" stroke="#a00026" stroke-width="1.35" stroke-opacity="0.62"/>
<rect x="355.21" y="519.12" width="3.1" height="1.45" fill="#a00026"/>
<rect x="361.18" y="512.99" width="4.7" height="74.31" fill="#d98912"/>
<line x1="363.53" y1="512.99" x2="363.53" y2="501.00" stroke="#d98912" stroke-width="1.35" stroke-opacity="0.62"/>
<rect x="361.98" y="500.60" width="3.1" height="1.45" fill="#d98912"/>
<rect x="373.59" y="536.09" width="4.7" height="51.21" fill="#2a477b"/>
<line x1="375.94" y1="536.09" x2="375.94" y2="532.53" stroke="#2a477b" stroke-width="1.35" stroke-opacity="0.62"/>
<rect x="374.39" y="532.13" width="3.1" height="1.45" fill="#2a477b"/>
<rect x="380.36" y="533.78" width="4.7" height="53.52" fill="#65a63c"/>
<line x1="382.71" y1="533.78" x2="382.71" y2="519.33" stroke="#65a63c" stroke-width="1.35" stroke-opacity="0.62"/>
<rect x="381.16" y="518.93" width="3.1" height="1.45" fill="#65a63c"/>
<rect x="387.13" y="533.27" width="4.7" height="54.03" fill="#a00026"/>
<line x1="389.49" y1="533.27" x2="389.49" y2="524.52" stroke="#a00026" stroke-width="1.35" stroke-opacity="0.62"/>
<rect x="387.94" y="524.12" width="3.1" height="1.45" fill="#a00026"/>
<rect x="393.90" y="520.77" width="4.7" height="66.53" fill="#d98912"/>
<line x1="396.25" y1="520.77" x2="396.25" y2="506.55" stroke="#d98912" stroke-width="1.35" stroke-opacity="0.62"/>
<rect x="394.70" y="506.15" width="3.1" height="1.45" fill="#d98912"/>
<rect x="406.32" y="547.11" width="4.7" height="40.19" fill="#2a477b"/>
<line x1="408.68" y1="547.11" x2="408.68" y2="543.27" stroke="#2a477b" stroke-width="1.35" stroke-opacity="0.62"/>
<rect x="407.12" y="542.87" width="3.1" height="1.45" fill="#2a477b"/>
<rect x="413.09" y="522.20" width="4.7" height="65.10" fill="#65a63c"/>
<line x1="415.44" y1="522.20" x2="415.44" y2="516.51" stroke="#65a63c" stroke-width="1.35" stroke-opacity="0.62"/>
<rect x="413.89" y="516.11" width="3.1" height="1.45" fill="#65a63c"/>
<rect x="419.87" y="529.33" width="4.7" height="57.97" fill="#a00026"/>
<line x1="422.22" y1="529.33" x2="422.22" y2="524.52" stroke="#a00026" stroke-width="1.35" stroke-opacity="0.62"/>
<rect x="420.67" y="524.12" width="3.1" height="1.45" fill="#a00026"/>
<rect x="426.63" y="505.81" width="4.7" height="81.49" fill="#d98912"/>
<line x1="428.99" y1="505.81" x2="428.99" y2="497.01" stroke="#d98912" stroke-width="1.35" stroke-opacity="0.62"/>
<rect x="427.44" y="496.62" width="3.1" height="1.45" fill="#d98912"/>
<rect x="439.06" y="488.40" width="4.7" height="98.90" fill="#2a477b"/>
<line x1="441.41" y1="488.40" x2="441.41" y2="473.40" stroke="#2a477b" stroke-width="1.35" stroke-opacity="0.62"/>
<rect x="439.86" y="473.00" width="3.1" height="1.45" fill="#2a477b"/>
<rect x="445.82" y="469.19" width="4.7" height="118.11" fill="#65a63c"/>
<line x1="448.18" y1="469.19" x2="448.18" y2="453.22" stroke="#65a63c" stroke-width="1.35" stroke-opacity="0.62"/>
<rect x="446.62" y="452.82" width="3.1" height="1.45" fill="#65a63c"/>
<rect x="452.60" y="469.19" width="4.7" height="118.11" fill="#a00026"/>
<line x1="454.95" y1="469.19" x2="454.95" y2="459.60" stroke="#a00026" stroke-width="1.35" stroke-opacity="0.62"/>
<rect x="453.40" y="459.20" width="3.1" height="1.45" fill="#a00026"/>
<rect x="459.37" y="450.90" width="4.7" height="136.40" fill="#d98912"/>
<line x1="461.72" y1="450.90" x2="461.72" y2="449.19" stroke="#d98912" stroke-width="1.35" stroke-opacity="0.62"/>
<rect x="460.17" y="448.79" width="3.1" height="1.45" fill="#d98912"/>
<rect x="471.78" y="567.48" width="4.7" height="19.82" fill="#2a477b"/>
<line x1="474.13" y1="567.48" x2="474.13" y2="566.09" stroke="#2a477b" stroke-width="1.35" stroke-opacity="0.62"/>
<rect x="472.58" y="565.69" width="3.1" height="1.45" fill="#2a477b"/>
<rect x="478.55" y="570.68" width="4.7" height="16.62" fill="#65a63c"/>
<line x1="480.90" y1="570.68" x2="480.90" y2="568.09" stroke="#65a63c" stroke-width="1.35" stroke-opacity="0.62"/>
<rect x="479.35" y="567.69" width="3.1" height="1.45" fill="#65a63c"/>
<rect x="485.32" y="567.48" width="4.7" height="19.82" fill="#a00026"/>
<line x1="487.68" y1="567.48" x2="487.68" y2="565.82" stroke="#a00026" stroke-width="1.35" stroke-opacity="0.62"/>
<rect x="486.12" y="565.42" width="3.1" height="1.45" fill="#a00026"/>
<rect x="492.09" y="566.60" width="4.7" height="20.70" fill="#d98912"/>
<line x1="494.44" y1="566.60" x2="494.44" y2="561.09" stroke="#d98912" stroke-width="1.35" stroke-opacity="0.62"/>
<rect x="492.89" y="560.69" width="3.1" height="1.45" fill="#d98912"/>
<line x1="43.89" y1="566.6" x2="513.0" y2="566.6" stroke="#111" stroke-width="1.25" stroke-dasharray="3.5 2.21" stroke-dashoffset="0.0"/>
<line x1="43.89" y1="353.0" x2="43.89" y2="587.9" stroke="#111" stroke-width="1.45"/>
<line x1="43.39" y1="587.3" x2="499.8" y2="587.3" stroke="#111" stroke-width="1.2"/>
<line x1="40.39" y1="587.30" x2="43.89" y2="587.30" stroke="#111" stroke-width="1.1"/>
<text x="37.49" y="590.05" font-size="7.9" text-anchor="end" fill="#1a1a1a" stroke="#1a1a1a" stroke-width="0.15">0</text>
<line x1="40.39" y1="541.00" x2="43.89" y2="541.00" stroke="#111" stroke-width="1.1"/>
<text x="37.49" y="543.75" font-size="7.9" text-anchor="end" fill="#1a1a1a" stroke="#1a1a1a" stroke-width="0.15">1</text>
<line x1="40.39" y1="494.70" x2="43.89" y2="494.70" stroke="#111" stroke-width="1.1"/>
<text x="37.49" y="497.45" font-size="7.9" text-anchor="end" fill="#1a1a1a" stroke="#1a1a1a" stroke-width="0.15">2</text>
<line x1="40.39" y1="448.40" x2="43.89" y2="448.40" stroke="#111" stroke-width="1.1"/>
<text x="37.49" y="451.15" font-size="7.9" text-anchor="end" fill="#1a1a1a" stroke="#1a1a1a" stroke-width="0.15">3</text>
<line x1="40.39" y1="402.10" x2="43.89" y2="402.10" stroke="#111" stroke-width="1.1"/>
<text x="37.49" y="404.85" font-size="7.9" text-anchor="end" fill="#1a1a1a" stroke="#1a1a1a" stroke-width="0.15">4</text>
<line x1="40.39" y1="355.80" x2="43.89" y2="355.80" stroke="#111" stroke-width="1.1"/>
<text x="37.49" y="358.55" font-size="7.9" text-anchor="end" fill="#1a1a1a" stroke="#1a1a1a" stroke-width="0.15">5</text>
<line x1="58.90" y1="587.3" x2="58.90" y2="590.3" stroke="#000" stroke-width="1.2"/>
<text x="64.35" y="596.90" font-size="7.9" text-anchor="end" fill="#1a1a1a" stroke="#1a1a1a" stroke-width="0.14" textLength="22.4" lengthAdjust="spacingAndGlyphs" transform="rotate(-45 64.35 596.90)">LRP12</text>
<line x1="91.63" y1="587.3" x2="91.63" y2="590.3" stroke="#000" stroke-width="1.2"/>
<text x="96.83" y="596.90" font-size="7.9" text-anchor="end" fill="#1a1a1a" stroke="#1a1a1a" stroke-width="0.14" textLength="28.0" lengthAdjust="spacingAndGlyphs" transform="rotate(-45 96.83 596.90)">RASSF2</text>
<line x1="124.36" y1="587.3" x2="124.36" y2="590.3" stroke="#000" stroke-width="1.2"/>
<text x="130.31" y="596.90" font-size="7.9" text-anchor="end" fill="#1a1a1a" stroke="#1a1a1a" stroke-width="0.14" textLength="19.5" lengthAdjust="spacingAndGlyphs" transform="rotate(-45 130.31 596.90)">XRK6</text>
<line x1="157.09" y1="587.3" x2="157.09" y2="590.3" stroke="#000" stroke-width="1.2"/>
<text x="162.29" y="596.90" font-size="7.9" text-anchor="end" fill="#1a1a1a" stroke="#1a1a1a" stroke-width="0.14" textLength="23.9" lengthAdjust="spacingAndGlyphs" transform="rotate(-45 162.29 596.90)">WWC1</text>
<line x1="189.82" y1="587.3" x2="189.82" y2="590.3" stroke="#000" stroke-width="1.2"/>
<text x="193.92" y="596.90" font-size="7.9" text-anchor="end" fill="#1a1a1a" stroke="#1a1a1a" stroke-width="0.14" textLength="23.1" lengthAdjust="spacingAndGlyphs" transform="rotate(-45 193.92 596.90)">CHSY1</text>
<line x1="222.55" y1="587.3" x2="222.55" y2="590.3" stroke="#000" stroke-width="1.2"/>
<text x="227.80" y="596.90" font-size="7.9" text-anchor="end" fill="#1a1a1a" stroke="#1a1a1a" stroke-width="0.14" textLength="31.6" lengthAdjust="spacingAndGlyphs" transform="rotate(-45 227.80 596.90)">CORO1A</text>
<line x1="255.28" y1="587.3" x2="255.28" y2="590.3" stroke="#000" stroke-width="1.2"/>
<text x="260.98" y="596.90" font-size="7.9" text-anchor="end" fill="#1a1a1a" stroke="#1a1a1a" stroke-width="0.14" textLength="27.2" lengthAdjust="spacingAndGlyphs" transform="rotate(-45 260.98 596.90)">NDRG1</text>
<line x1="288.01" y1="587.3" x2="288.01" y2="590.3" stroke="#000" stroke-width="1.2"/>
<text x="293.91" y="596.90" font-size="7.9" text-anchor="end" fill="#1a1a1a" stroke="#1a1a1a" stroke-width="0.14" textLength="37.8" lengthAdjust="spacingAndGlyphs" transform="rotate(-45 293.91 596.90)">ANKDD1A</text>
<line x1="320.74" y1="587.3" x2="320.74" y2="590.3" stroke="#000" stroke-width="1.2"/>
<text x="326.84" y="596.90" font-size="7.9" text-anchor="end" fill="#1a1a1a" stroke="#1a1a1a" stroke-width="0.14" textLength="26.4" lengthAdjust="spacingAndGlyphs" transform="rotate(-45 326.84 596.90)">CAPN2</text>
<line x1="353.47" y1="587.3" x2="353.47" y2="590.3" stroke="#000" stroke-width="1.2"/>
<text x="356.97" y="596.90" font-size="7.9" text-anchor="end" fill="#1a1a1a" stroke="#1a1a1a" stroke-width="0.14" textLength="14.8" lengthAdjust="spacingAndGlyphs" transform="rotate(-45 356.97 596.90)">SVIL</text>
<line x1="386.20" y1="587.3" x2="386.20" y2="590.3" stroke="#000" stroke-width="1.2"/>
<text x="391.90" y="596.90" font-size="7.9" text-anchor="end" fill="#1a1a1a" stroke="#1a1a1a" stroke-width="0.14" textLength="24.4" lengthAdjust="spacingAndGlyphs" transform="rotate(-45 391.90 596.90)">ACTA2</text>
<line x1="418.93" y1="587.3" x2="418.93" y2="590.3" stroke="#000" stroke-width="1.2"/>
<text x="423.53" y="596.90" font-size="7.9" text-anchor="end" fill="#1a1a1a" stroke="#1a1a1a" stroke-width="0.14" textLength="17.0" lengthAdjust="spacingAndGlyphs" transform="rotate(-45 423.53 596.90)">TNS1</text>
<line x1="451.66" y1="587.3" x2="451.66" y2="590.3" stroke="#000" stroke-width="1.2"/>
<text x="457.56" y="596.90" font-size="7.9" text-anchor="end" fill="#1a1a1a" stroke="#1a1a1a" stroke-width="0.14" textLength="19.1" lengthAdjust="spacingAndGlyphs" transform="rotate(-45 457.56 596.90)">EGR3</text>
<line x1="484.39" y1="587.3" x2="484.39" y2="590.3" stroke="#000" stroke-width="1.2"/>
<text x="490.49" y="596.90" font-size="7.9" text-anchor="end" fill="#1a1a1a" stroke="#1a1a1a" stroke-width="0.14" textLength="29.4" lengthAdjust="spacingAndGlyphs" transform="rotate(-45 490.49 596.90)">NANOG</text>
<path d="M88.6 523.6 V461.7 H102.1 V476.3" fill="none" stroke="#1e1e1e" stroke-width="1.2"/>
<circle cx="94.9" cy="457.8" r="1.3" fill="#222"/>
<path d="M121.1 510.5 V448.2 H134.6 V463.8" fill="none" stroke="#1e1e1e" stroke-width="1.2"/>
<circle cx="127.4" cy="444.2" r="1.3" fill="#222"/>
<path d="M154.2 503.4 V458.1 H167.7 V475.6" fill="none" stroke="#1e1e1e" stroke-width="1.2"/>
<circle cx="160.1" cy="453.9" r="1.3" fill="#222"/>
<path d="M218.1 504.6 V464.3 H233.0 V486.8" fill="none" stroke="#1e1e1e" stroke-width="1.2"/>
<circle cx="226.0" cy="460.2" r="1.3" fill="#222"/>
<text x="206.3" y="346.8" font-size="9.2" fill="#111" textLength="137" lengthAdjust="spacingAndGlyphs">Anti-MRTFA ChIP-PCR (HEL cells)</text>
<rect x="372.8" y="356.20" width="9.8" height="4.6" fill="#2a477b"/>
<text x="386" y="361.20" font-size="7.9" fill="#2a477b" stroke="#2a477b" stroke-width="0.12" textLength="33" lengthAdjust="spacingAndGlyphs">Untreated</text>
<rect x="372.8" y="370.40" width="9.8" height="4.6" fill="#65a63c"/>
<text x="386" y="375.40" font-size="7.9" fill="#65a63c" stroke="#65a63c" stroke-width="0.12" textLength="17" lengthAdjust="spacingAndGlyphs">TPA+</text>
<rect x="372.8" y="384.60" width="9.8" height="4.6" fill="#a00026"/>
<text x="386" y="389.60" font-size="7.9" fill="#a00026" stroke="#a00026" stroke-width="0.12" textLength="22.8" lengthAdjust="spacingAndGlyphs">MRTFA</text>
<text x="408.5" y="386.30" font-size="4.9" fill="#a00026" stroke="#a00026" stroke-width="0.08" textLength="7.2" lengthAdjust="spacingAndGlyphs">OE</text>
<text x="415.9" y="389.60" font-size="7.9" fill="#a00026" stroke="#a00026" stroke-width="0.12" textLength="14.0" lengthAdjust="spacingAndGlyphs">TPA-</text>
<rect x="372.8" y="398.80" width="9.8" height="4.6" fill="#d98912"/>
<text x="386" y="403.80" font-size="7.9" fill="#d98912" stroke="#d98912" stroke-width="0.12" textLength="22.8" lengthAdjust="spacingAndGlyphs">MRTFA</text>
<text x="408.5" y="400.50" font-size="4.9" fill="#d98912" stroke="#d98912" stroke-width="0.08" textLength="7.2" lengthAdjust="spacingAndGlyphs">OE</text>
<text x="415.9" y="403.80" font-size="7.9" fill="#d98912" stroke="#d98912" stroke-width="0.12" textLength="16.8" lengthAdjust="spacingAndGlyphs">TPA+</text>
<text x="8.0" y="335.0" font-size="11.2" fill="#111" stroke="#111" stroke-width="0.2" textLength="6.0" lengthAdjust="spacingAndGlyphs">B</text>
<text x="27.2" y="470.8" font-size="10.2" text-anchor="middle" fill="#111" stroke="#111" stroke-width="0.15" textLength="57.5" lengthAdjust="spacingAndGlyphs" transform="rotate(-90 27.2 470.8)">Percent input</text>
<g shape-rendering="crispEdges">
<rect x="0" y="1" width="1" height="631" fill="#222"/>
<rect x="1" y="1" width="1" height="630" fill="#222" fill-opacity="0.6"/>
<rect x="0" y="0" width="520" height="1" fill="#222"/>
<rect x="2" y="1" width="516" height="1" fill="#222" fill-opacity="0.42"/>
<rect x="0" y="631" width="520" height="1" fill="#111"/>
<rect x="2" y="630" width="516" height="1" fill="#111" fill-opacity="0.5"/>
<rect x="519" y="0" width="1" height="632" fill="#000"/>
<rect x="518" y="1" width="1" height="630" fill="#000" fill-opacity="0.3"/>
</g>
</svg>
</body></html>
